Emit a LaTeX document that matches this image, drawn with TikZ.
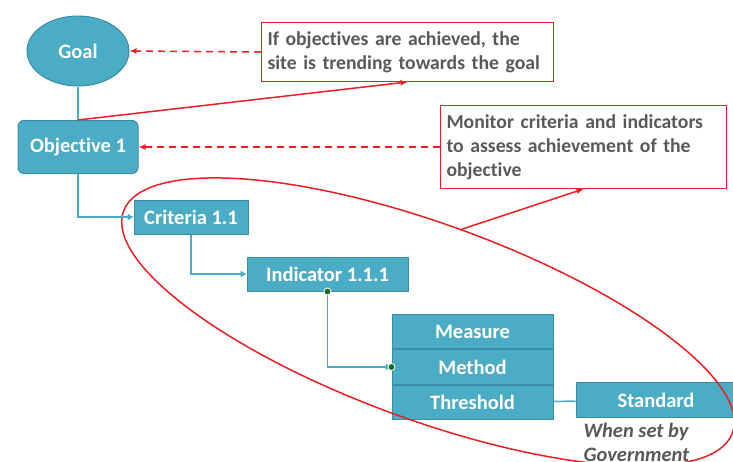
\documentclass[tikz,border=0pt]{standalone}
\usepackage{fontspec}
\setmainfont{Carlito}[Ligatures=NoCommon]
\usepackage{xcolor}
\usepackage{tikz}
\usetikzlibrary{shapes.geometric,arrows.meta,positioning,calc}
\definecolor{boxfill}{RGB}{75,172,198}
\definecolor{boxline}{RGB}{58,140,163}
\definecolor{callred}{RGB}{235,30,35}
\definecolor{textgray}{RGB}{89,89,89}
\definecolor{dotgreen}{RGB}{20,110,20}

\begin{document}
\begin{tikzpicture}[
    x=1pt, y=-1pt,
    box/.style={draw=boxline, fill=boxfill, text=white, line width=1pt, inner sep=0pt,
        font=\bfseries\fontsize{20.5}{23}\selectfont},
    note/.style={draw=callred, line width=1pt, text=textgray, align=left, anchor=north west,
        inner xsep=6pt, font=\bfseries\fontsize{19.7}{24}\selectfont},
    link/.style={draw=boxfill, line width=1.5pt, -{Triangle[length=6pt,width=6pt]}},
    hint/.style={draw=callred, line width=1.5pt, dash pattern=on 7pt off 5pt, -{Latex[length=7pt,width=6pt]}},
    point/.style={draw=callred, line width=1.5pt, -{Latex[length=7pt,width=6pt]}},
    joint/.style={circle, fill=dotgreen, draw=white, line width=0.8pt, inner sep=0pt, minimum size=7pt}
]
    \useasboundingbox (0,0) rectangle (733,461);
    \clip (0,0) rectangle (733,461);

    % Hierarchy
    \node[box, ellipse, minimum width=102pt, minimum height=70pt] (goal) at (78,51) {Goal};
    \node[box, rounded corners=6pt, minimum width=120pt, minimum height=53pt] (objective) at (78,147) {Objective 1};
    \node[box, minimum width=114pt, minimum height=34pt] (criteria) at (191,217) {Criteria 1.1};
    \node[box, minimum width=161pt, minimum height=34pt] (indicator) at (327.5,274) {Indicator 1.1.1};
    \node[box, minimum width=161pt, minimum height=34.5pt] (measure) at (472.5,331.5) {Measure};
    \node[box, minimum width=161pt, minimum height=34.5pt, below=0pt of measure] (method) {Method};
    \node[box, minimum width=161pt, minimum height=34.5pt, below=0pt of method] (threshold) {Threshold};
    \node[box, minimum width=160pt, minimum height=34.5pt] (standard) at (656,400) {Standard};
    \node[anchor=north west, align=left, text=textgray, font=\bfseries\itshape\fontsize{20.5}{24}\selectfont] (government) at (580,420) {When set by\\Government};

    % Notes
    \node[note, minimum width=292pt, minimum height=59pt, text width=280pt] (trend) at (261,22)
        {If objectives are achieved, the\\site is trending towards the goal};
    \node[note, minimum width=286pt, minimum height=83pt, text width=274pt] (monitor) at (440,105)
        {Monitor criteria and indicators\\to assess achievement of the\\objective};
    \node[ellipse, draw=callred, line width=1.5pt, minimum width=648pt, minimum height=196pt, rotate=-20] (focus) at (428,322) {};

    % Connectors
    \draw[link, -] (goal) -- (objective);
    \draw[link] (objective.south) |- (criteria.west);
    \draw[link] (criteria.south) |- (indicator.west);
    \draw[link] (indicator.south) |- (method.west);
    \draw[link, -] (threshold) -- (standard);
    \node[joint] (jointtop) at (indicator.south) {};
    \node[joint] (jointend) at (method.west) {};

    % Annotations
    \draw[hint] (trend.west) -- (goal.east);
    \draw[hint] (monitor.west) -- (objective.east);
    \draw[point] (objective.north) -- (trend.south);
    \draw[point] (focus.north) -- (monitor.south);
\end{tikzpicture}
\end{document}
